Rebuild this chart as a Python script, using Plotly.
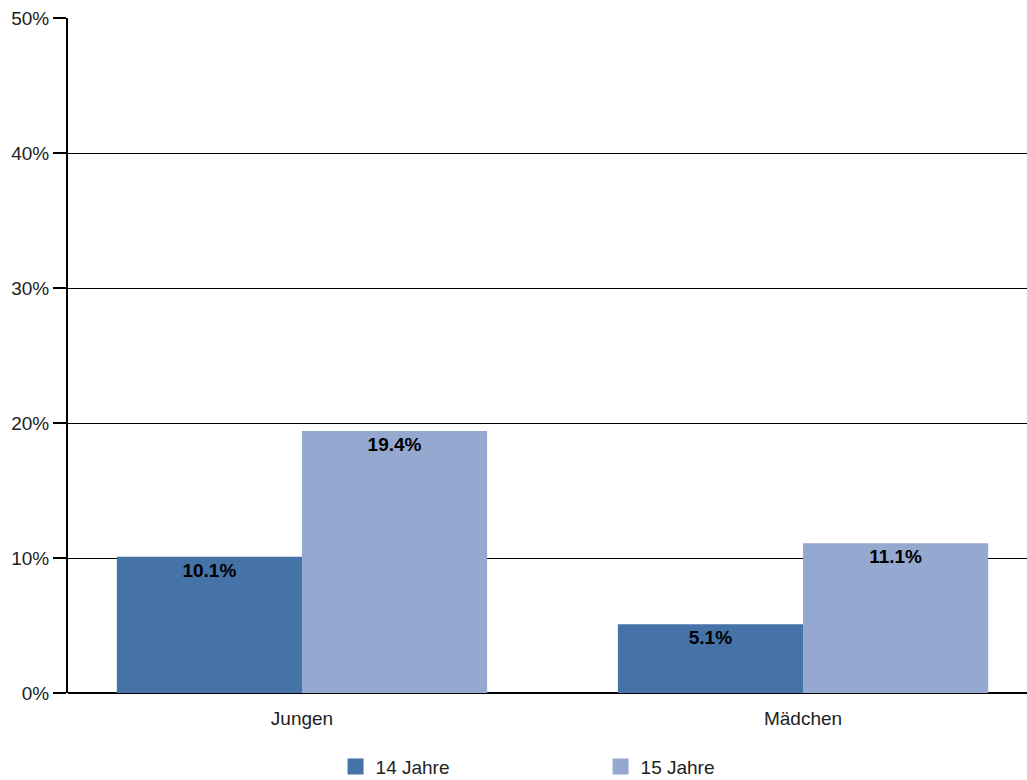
import plotly.graph_objects as go

categories = ["Jungen", "Mädchen"]
jahre_14 = [10.1, 5.1]
jahre_15 = [19.4, 11.1]
series_names = ["14 Jahre", "15 Jahre"]
y_ticks = [0, 10, 20, 30, 40, 50]
y_ticktext = ["0%", "10%", "20%", "30%", "40%", "50%"]

COLORS = ["#4572a7", "#95a9d0"]
FONT = "Liberation Sans, Arial, sans-serif"
FS = 19

fig = go.Figure()
for name, vals, col in zip(series_names, [jahre_14, jahre_15], COLORS):
    fig.add_trace(go.Bar(
        x=categories, y=vals, name=name, showlegend=False,
        marker=dict(color=col, line=dict(width=0)),
        text=[f"<b>{v:.1f}%</b>" for v in vals],
        textposition="inside", insidetextanchor="end",
        textfont=dict(family=FONT, size=FS, color="black"),
        textangle=0,
    ))
    # legend entry with a bigger square
    fig.add_trace(go.Scatter(
        x=[None], y=[None], mode="markers", name=name,
        marker=dict(symbol="square", size=18, color=col),
    ))

fig.update_layout(
    width=1027, height=780,
    margin=dict(l=68, r=0, t=18, b=87, autoexpand=False),
    paper_bgcolor="white", plot_bgcolor="white",
    barmode="group", bargap=0.261, bargroupgap=0,
    font=dict(family=FONT, size=FS, color="#222"),
    showlegend=True,
    legend=dict(orientation="h", x=0.279, xanchor="left", y=-0.081, yanchor="top",
                entrywidth=220, entrywidthmode="pixels",
                font=dict(family=FONT, size=FS, color="#222")),
)
fig.update_xaxes(range=[-0.467, 1.447], showline=False, ticks="", showgrid=False,
                 automargin=False, ticklabelstandoff=12,
                 tickfont=dict(family=FONT, size=FS, color="#222"))
fig.update_yaxes(range=[0, 50], tickmode="array", tickvals=y_ticks, ticktext=y_ticktext,
                 showgrid=True, gridcolor="black", gridwidth=1,
                 showline=True, linecolor="black", linewidth=2,
                 ticks="outside", ticklen=13, tickcolor="black", tickwidth=2,
                 zeroline=True, zerolinecolor="black", zerolinewidth=2,
                 automargin=False,
                 tickfont=dict(family=FONT, size=FS, color="#222"))

# page margin off so the chart sits at the window's top-left corner
fig.write_html("out.html", config={"displayModeBar": False},
               post_script="document.body.style.margin='0';")
